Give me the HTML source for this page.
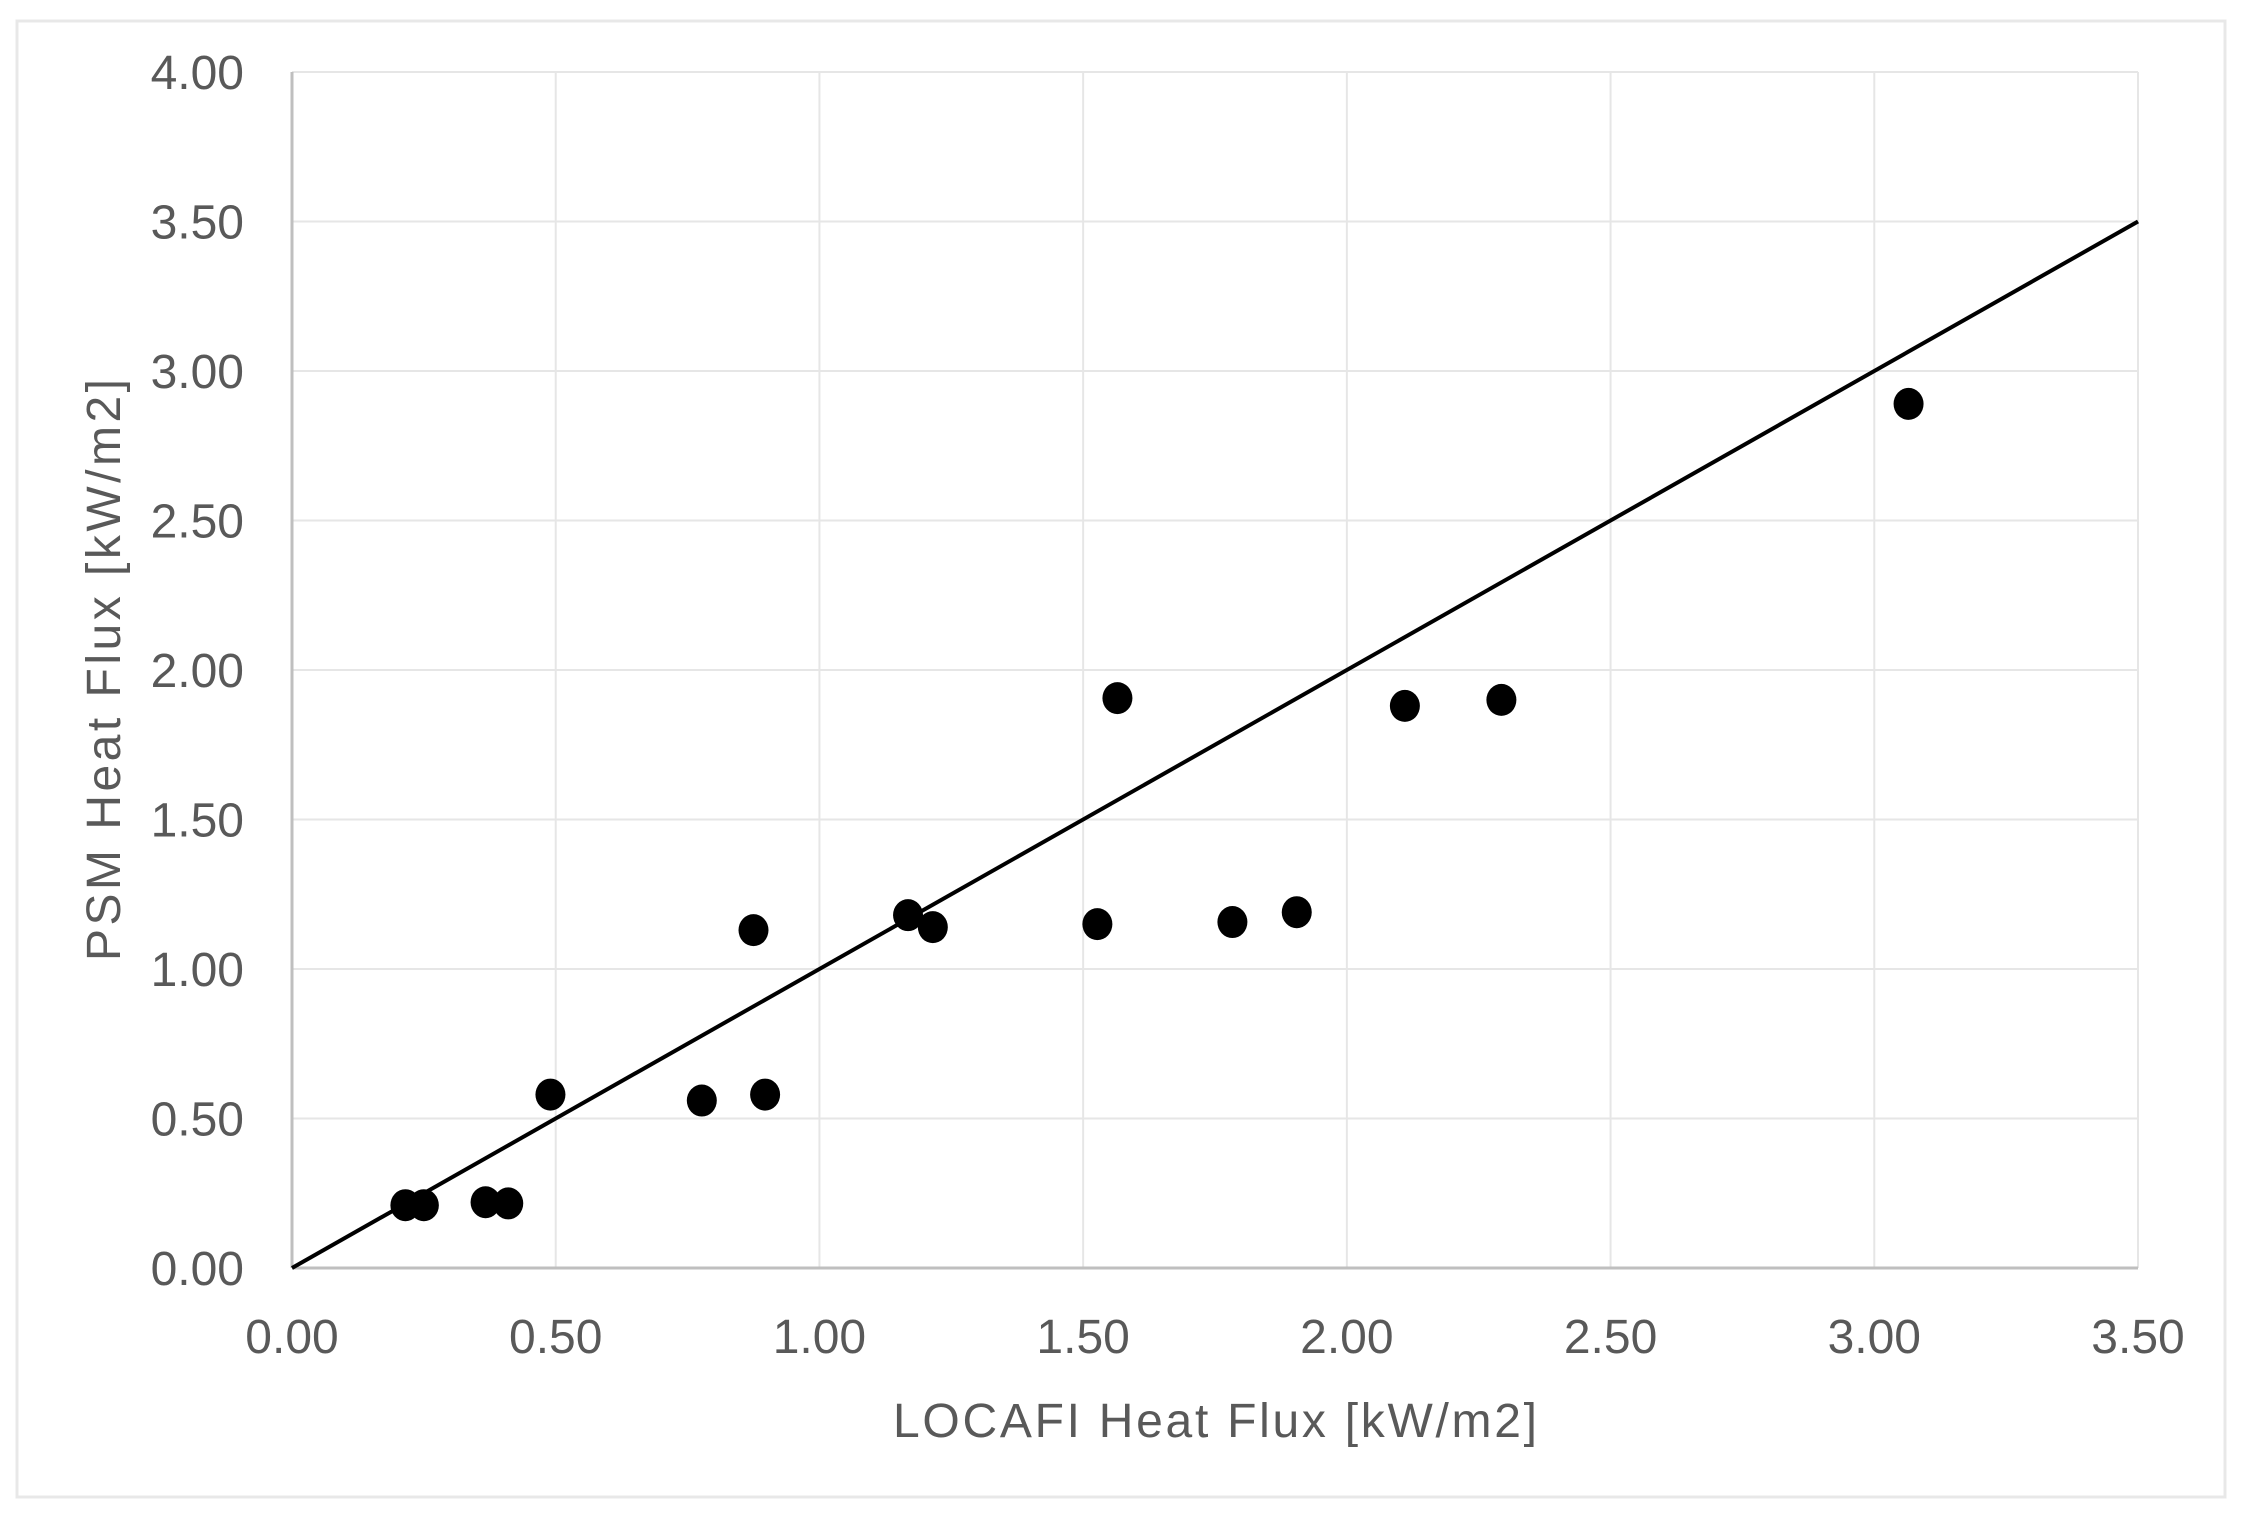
<!DOCTYPE html>
<html><head><meta charset="utf-8"><style>
html,body{margin:0;padding:0;background:#fff;}
svg{display:block;font-family:"Liberation Sans",sans-serif;}
</style></head><body>
<svg id="chart" width="2247" height="1522" viewBox="0 0 2247 1522" xmlns="http://www.w3.org/2000/svg">
<rect x="17" y="21" width="2208" height="1476" fill="#fff" stroke="#e8e8e8" stroke-width="3"/>
<g id="grid"></g>
<g id="axes"></g>
<g id="marks"></g>
<text x="1215" y="1437" text-anchor="middle" font-size="48" fill="#595959" textLength="644">LOCAFI Heat Flux [kW/m2]</text>
<text transform="translate(120,670) rotate(-90)" text-anchor="middle" font-size="48" fill="#595959" textLength="582">PSM Heat Flux [kW/m2]</text>
</svg>
<script>
const xValues = [0.215,0.25,0.367,0.41,0.49,0.777,0.875,0.897,1.168,1.215,1.527,1.565,1.783,1.905,2.11,2.293,3.065];
const yValues = [0.21,0.21,0.22,0.216,0.58,0.56,1.13,0.58,1.18,1.14,1.15,1.906,1.157,1.19,1.88,1.90,2.89];
const xTicks = [0,0.5,1,1.5,2,2.5,3,3.5];
const yTicks = [0,0.5,1,1.5,2,2.5,3,3.5,4];
const refLine = [[0,0],[3.5,3.5]];

const L=292,R=2138,T=72,B=1268;
const xs=v=>L+(v-0)/(3.5-0)*(R-L);
const ys=v=>B-(v-0)/(4-0)*(B-T);
const NS='http://www.w3.org/2000/svg';
function mk(tag,attrs,parent){const e=document.createElementNS(NS,tag);for(const k in attrs)e.setAttribute(k,attrs[k]);parent.appendChild(e);return e;}
const grid=document.getElementById('grid'),axes=document.getElementById('axes'),marks=document.getElementById('marks');

xTicks.forEach(t=>{
  if(t>0){const g=mk('line',{x1:xs(t),x2:xs(t),y1:T,y2:B,stroke:'#e6e6e6','stroke-width':2},grid);
  
  }
  const tx=mk('text',{x:xs(t),y:1353,'text-anchor':'middle','font-size':48,fill:'#595959'},axes);
  tx.textContent=t.toFixed(2);
  
  
});
yTicks.forEach(t=>{
  if(t>0){const g=mk('line',{x1:L,x2:R,y1:ys(t),y2:ys(t),stroke:'#e6e6e6','stroke-width':2},grid);
  
  }
  const tx=mk('text',{x:244,y:ys(t)+17,'text-anchor':'end','font-size':48,fill:'#595959'},axes);
  tx.textContent=t.toFixed(2);
  
  
});
const ax=mk('line',{x1:L,x2:R,y1:B,y2:B,stroke:'#bfbfbf','stroke-width':3},axes);


const ay=mk('line',{x1:L,x2:L,y1:T,y2:B,stroke:'#bfbfbf','stroke-width':3},axes);



const ln=mk('line',{x1:xs(refLine[0][0]),y1:ys(refLine[0][1]),x2:xs(refLine[1][0]),y2:ys(refLine[1][1]),stroke:'#000','stroke-width':4},marks);



xValues.forEach((x,i)=>{
  const c=mk('ellipse',{cx:xs(x),cy:ys(yValues[i]),rx:15,ry:16,fill:'#000'},marks);
  
  
});
</script>
</body></html>
